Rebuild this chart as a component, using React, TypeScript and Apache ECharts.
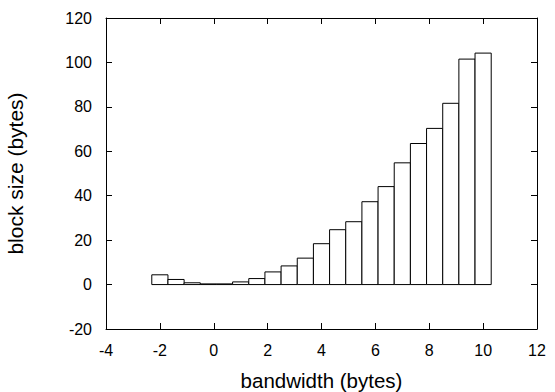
import React, { useEffect, useRef } from "react";
import * as echarts from "echarts";

const binCenters = [-2.0, -1.4, -0.8, -0.2, 0.4, 1.0, 1.6, 2.2, 2.8, 3.4, 4.0, 4.6, 5.2, 5.8, 6.4, 7.0, 7.6, 8.2, 8.8, 9.4, 10.0];
const blockSizes = [4.4, 2.3, 0.8, 0.3, 0.3, 1.2, 2.7, 5.7, 8.4, 11.9, 18.4, 24.7, 28.3, 37.3, 44.1, 54.8, 63.5, 70.3, 81.6, 101.5, 104.2];
const BIN_WIDTH = 0.6;
const xTicks = { min: -4, max: 12, interval: 2 };
const yTicks = { min: -20, max: 120, interval: 20 };

const FONT = "'Liberation Sans', Arial, Helvetica, sans-serif";

export default function App() {
  const ref = useRef<HTMLDivElement>(null);
  useEffect(() => {
    document.body.style.margin = "0";
    const chart = echarts.init(ref.current!, undefined, { renderer: "svg" });
    const data = binCenters.map((c, i) => [c, blockSizes[i]]);
    const tickStyle = { inside: true, length: 6, lineStyle: { color: "#000", width: 1 } };
    const lineStyle = { show: true, onZero: false, lineStyle: { color: "#000", width: 1 } };
    chart.setOption({
      animation: false,
      backgroundColor: "#fff",
      textStyle: { fontFamily: FONT },
      grid: {
        left: 106,
        right: 18,
        top: 18,
        bottom: 63,
        containLabel: false,
        outerBoundsMode: "none",
      },
      xAxis: [
        {
          type: "value",
          ...xTicks,
          name: "bandwidth (bytes)",
          nameLocation: "middle",
          nameGap: 41,
          nameTextStyle: { fontSize: 20.5, color: "#000", fontFamily: FONT },
          axisLine: lineStyle,
          axisTick: tickStyle,
          splitLine: { show: false },
          axisLabel: { fontSize: 16, color: "#000", margin: 13, fontFamily: FONT },
        },
        {
          type: "value",
          position: "top",
          ...xTicks,
          axisLine: lineStyle,
          axisTick: tickStyle,
          splitLine: { show: false },
          axisLabel: { show: false },
        },
      ],
      yAxis: [
        {
          type: "value",
          ...yTicks,
          name: "block size (bytes)",
          nameLocation: "middle",
          nameGap: 80,
          nameTextStyle: { fontSize: 21, color: "#000", fontFamily: FONT },
          axisLine: lineStyle,
          axisTick: tickStyle,
          splitLine: { show: false },
          axisLabel: { fontSize: 16, color: "#000", margin: 14, fontFamily: FONT },
        },
        {
          type: "value",
          position: "right",
          ...yTicks,
          axisLine: lineStyle,
          axisTick: tickStyle,
          splitLine: { show: false },
          axisLabel: { show: false },
        },
      ],
      series: [
        {
          type: "custom",
          xAxisIndex: 0,
          yAxisIndex: 0,
          data,
          renderItem: (params: any, api: any) => {
            const c = api.value(0);
            const v = api.value(1);
            const p0 = api.coord([c - BIN_WIDTH / 2, v]);
            const p1 = api.coord([c + BIN_WIDTH / 2, 0]);
            return {
              type: "rect",
              shape: { x: p0[0], y: p0[1], width: p1[0] - p0[0], height: p1[1] - p0[1] },
              style: { fill: "#fff", stroke: "#000", lineWidth: 1 },
            };
          },
        },
      ],
    });
    return () => chart.dispose();
  }, []);
  return (
    <div
      ref={ref}
      style={{ position: "fixed", left: 0, top: 0, width: 555, height: 392, background: "#fff" }}
    />
  );
}
